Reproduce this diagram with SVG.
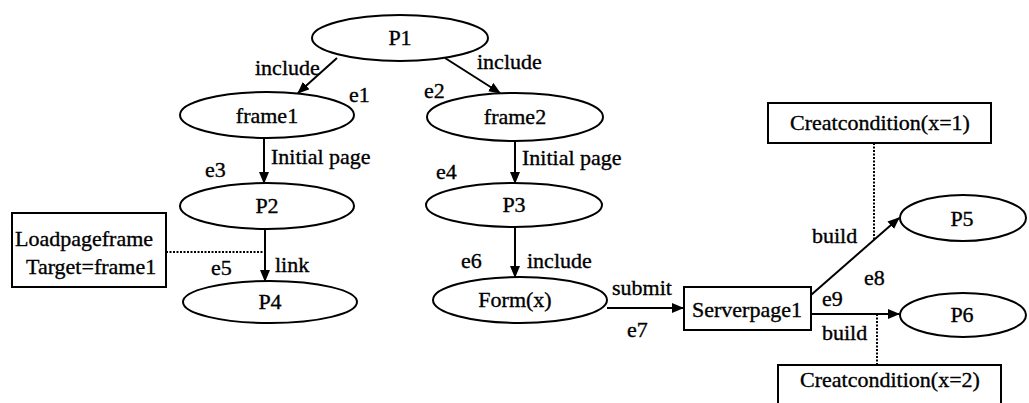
<svg xmlns="http://www.w3.org/2000/svg" width="1029" height="403" viewBox="0 0 1029 403">
<style>
  .n { fill: #fff; stroke: #000; stroke-width: 2; }
  .t { font-family: "Liberation Serif", "Times New Roman", serif; font-size: 22px; fill: #000; stroke: #000; stroke-width: 0.35; }
  .c { text-anchor: middle; }
  .e { stroke: #000; stroke-width: 2; fill: none; marker-end: url(#ah); }
  .d { stroke: #000; stroke-width: 2; stroke-dasharray: 2 1.5; fill: none; }
</style>
<defs>
  <marker id="ah" viewBox="0 0 12 10" refX="11" refY="5" markerWidth="12" markerHeight="10" markerUnits="userSpaceOnUse" orient="auto">
    <path d="M0,0 L12,5 L0,10 z" fill="#000"/>
  </marker>
</defs>
<rect width="1029" height="403" fill="#fff"/>

<g id="connectors">
  <line class="e" x1="337" y1="58" x2="298" y2="93"/>
  <line class="e" x1="445" y1="58" x2="500" y2="93"/>
  <line class="e" x1="264" y1="138" x2="264" y2="183"/>
  <line class="e" x1="515" y1="141" x2="515" y2="183"/>
  <line class="e" x1="265" y1="229" x2="265" y2="281"/>
  <line class="e" x1="515" y1="227" x2="515" y2="277"/>
  <line class="e" x1="607" y1="308" x2="683" y2="308"/>
  <line class="e" x1="811" y1="295" x2="899" y2="218"/>
  <line class="e" x1="811" y1="314" x2="899" y2="314"/>
  <line class="d" x1="166" y1="252" x2="264" y2="252"/>
  <line class="d" x1="874" y1="143" x2="874" y2="239"/>
  <line class="d" x1="877" y1="314" x2="877" y2="365"/>
  <text class="t" x="255" y="75">include</text>
  <text class="t" x="477" y="69">include</text>
  <text class="t" x="349" y="102">e1</text>
  <text class="t" x="424" y="98">e2</text>
  <text class="t" x="271" y="164">Initial page</text>
  <text class="t" x="522" y="165">Initial page</text>
  <text class="t" x="205" y="177">e3</text>
  <text class="t" x="436" y="179">e4</text>
  <text class="t" x="211" y="275">e5</text>
  <text class="t" x="275" y="272">link</text>
  <text class="t" x="461" y="268">e6</text>
  <text class="t" x="527" y="268">include</text>
  <text class="t" x="612" y="295">submit</text>
  <text class="t" x="627" y="337">e7</text>
  <text class="t" x="812" y="243">build</text>
  <text class="t" x="864" y="285">e8</text>
  <text class="t" x="822" y="306">e9</text>
  <text class="t" x="822" y="340">build</text>
</g>

<g id="P1"><ellipse class="n" cx="400" cy="38" rx="88" ry="23"/><text class="t c" x="400" y="45">P1</text></g>
<g id="frame1"><ellipse class="n" cx="267" cy="115" rx="87" ry="23"/><text class="t c" x="267" y="123">frame1</text></g>
<g id="frame2"><ellipse class="n" cx="515" cy="117" rx="88" ry="24"/><text class="t c" x="515" y="124">frame2</text></g>
<g id="P2"><ellipse class="n" cx="267" cy="206" rx="87" ry="23"/><text class="t c" x="267" y="213">P2</text></g>
<g id="P3"><ellipse class="n" cx="514" cy="205" rx="88" ry="22"/><text class="t c" x="514" y="212">P3</text></g>
<g id="P4"><ellipse class="n" cx="270" cy="302" rx="87" ry="21"/><text class="t c" x="270" y="309">P4</text></g>
<g id="Form"><ellipse class="n" cx="520" cy="300" rx="87" ry="23"/><text class="t c" x="515" y="307">Form(x)</text></g>
<g id="P5"><ellipse class="n" cx="963" cy="218" rx="63" ry="23"/><text class="t c" x="962" y="226">P5</text></g>
<g id="P6"><ellipse class="n" cx="963" cy="315" rx="63" ry="22"/><text class="t c" x="962" y="322">P6</text></g>
<g id="Serverpage1"><rect class="n" x="684" y="287" width="127" height="43"/><text class="t c" x="747" y="317">Serverpage1</text></g>
<g id="Loadpageframe"><rect class="n" x="12" y="213" width="154" height="74"/><text class="t" x="15" y="246">Loadpageframe</text><text class="t" x="26" y="274">Target=frame1</text></g>
<g id="Cond1"><rect class="n" x="768" y="103" width="223" height="40"/><text class="t c" x="880" y="130">Creatcondition(x=1)</text></g>
<g id="Cond2"><rect class="n" x="778" y="365" width="223" height="40"/><text class="t c" x="890" y="387">Creatcondition(x=2)</text></g>
</svg>
